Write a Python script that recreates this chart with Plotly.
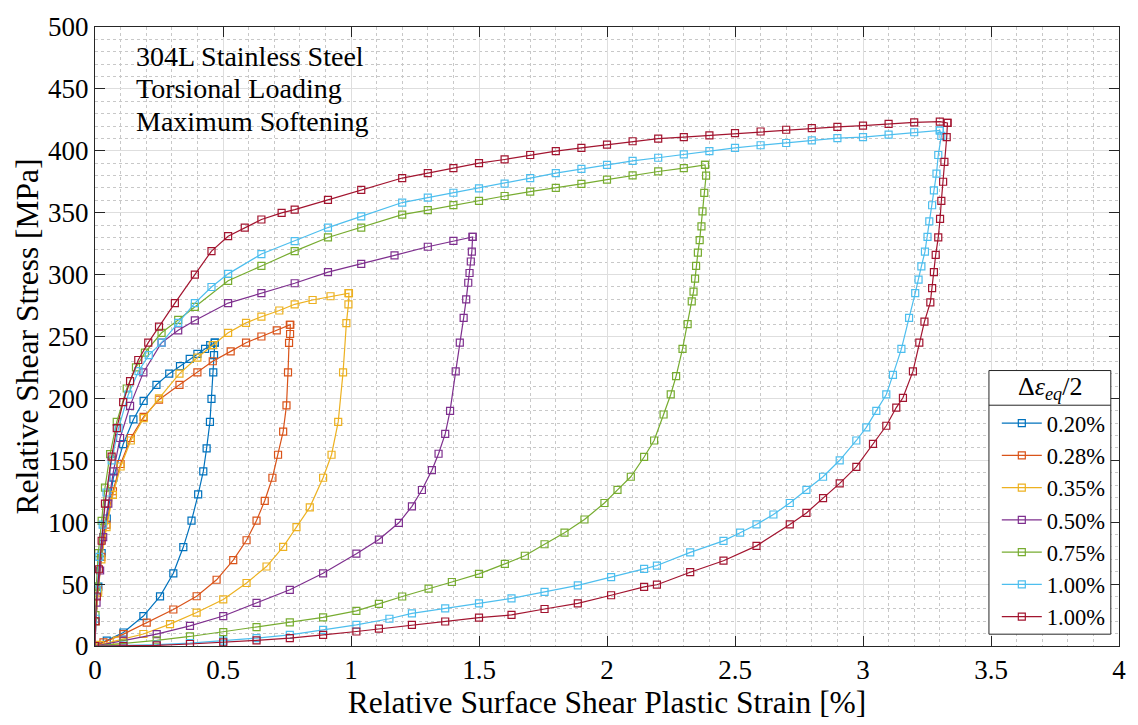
import plotly.graph_objects as go

# Relative hysteresis loops (shear stress vs. surface shear plastic strain).
# Each loop: loading branch from the origin up to the peak ("up"),
# unloading branch from the origin up to the same peak ("lo").
labels = ["0.20%", "0.28%", "0.35%", "0.50%", "0.75%", "1.00%", "1.00%"]
colors = ["#0072BD", "#D95319", "#EDB120", "#7E2F8E", "#77AC30", "#4DBEEE", "#A2142F"]

up_x_020 = [0, 0.003, 0.013, 0.026, 0.046, 0.072, 0.11, 0.15, 0.19, 0.24, 0.29, 0.332, 0.37, 0.40, 0.43, 0.45, 0.468]
up_y_020 = [0, 20, 48, 75, 103, 136, 163, 183, 198, 211, 220, 226, 232, 236, 240, 243, 245]
lo_x_020 = [0, 0.046, 0.111, 0.189, 0.254, 0.306, 0.345, 0.377, 0.403, 0.423, 0.436, 0.449, 0.455, 0.462, 0.465, 0.468]
lo_y_020 = [0, 4.3, 10.9, 24.2, 40.1, 58.7, 79.9, 101.2, 122.4, 141, 159.7, 181, 199.6, 221, 235, 245]

up_x_028 = [0, 0.003, 0.012, 0.025, 0.045, 0.07, 0.10, 0.14, 0.19, 0.25, 0.33, 0.40, 0.46, 0.53, 0.59, 0.65, 0.71, 0.761]
up_y_028 = [0, 20, 45, 72, 98, 125, 147, 168, 185, 199, 211, 221, 230, 238, 245, 250, 255, 259.5]
lo_x_028 = [0, 0.033, 0.111, 0.202, 0.306, 0.397, 0.475, 0.54, 0.592, 0.631, 0.663, 0.693, 0.715, 0.735, 0.748, 0.754, 0.758, 0.762, 0.763]
lo_y_028 = [0, 2.9, 9.6, 18.9, 29.5, 40.2, 53.5, 69.4, 85.4, 101.3, 117.3, 135.9, 154.5, 173.2, 194.4, 221, 244.8, 252, 259.5]

up_x_035 = [0, 0.003, 0.012, 0.025, 0.045, 0.07, 0.10, 0.14, 0.19, 0.25, 0.33, 0.40, 0.46, 0.52, 0.59, 0.65, 0.72, 0.78, 0.85, 0.92, 0.99]
up_y_035 = [0, 20, 43, 70, 96, 122, 145, 166, 184, 200, 220, 233, 243, 253, 261, 266, 271, 276, 279.5, 282.5, 285]
lo_x_035 = [0, 0.02, 0.085, 0.189, 0.293, 0.397, 0.501, 0.592, 0.67, 0.735, 0.787, 0.839, 0.891, 0.924, 0.95, 0.969, 0.982, 0.99, 0.992]
lo_y_035 = [0, 0.9, 4.4, 9.7, 17.7, 27, 37.6, 50.9, 64.2, 80.1, 96, 112, 135.9, 154.5, 181, 221, 260.8, 276, 285]

up_x_050 = [0, 0.006, 0.02, 0.032, 0.052, 0.072, 0.098, 0.137, 0.189, 0.26, 0.325, 0.39, 0.52, 0.65, 0.78, 0.91, 1.04, 1.17, 1.3, 1.4, 1.475]
up_y_050 = [0, 35, 61, 88, 115, 141, 168, 194, 221, 245, 255, 263, 277, 285, 293, 302, 308.6, 315.5, 322.5, 327.2, 330.4]
lo_x_050 = [0, 0.111, 0.241, 0.371, 0.501, 0.631, 0.761, 0.891, 1.021, 1.109, 1.187, 1.238, 1.277, 1.316, 1.342, 1.368, 1.387, 1.409, 1.425, 1.44, 1.45, 1.458, 1.463, 1.468, 1.472, 1.475]
lo_y_050 = [0, 4.3, 9.6, 16.3, 24.2, 34.8, 45.4, 58.7, 74.6, 86, 99.5, 112.8, 126, 142, 155.3, 171.3, 189.9, 221.8, 245, 265, 280, 293.4, 301.3, 310.6, 318.5, 330.4]

up_x_075 = [0, 0.002, 0.005, 0.013, 0.026, 0.039, 0.059, 0.085, 0.124, 0.16, 0.195, 0.26, 0.325, 0.39, 0.52, 0.65, 0.78, 0.91, 1.04, 1.2, 1.3, 1.4, 1.5, 1.6, 1.7, 1.8, 1.9, 2.0, 2.1, 2.2, 2.3, 2.383]
up_y_075 = [0, 25, 48, 75, 101, 128, 155, 181, 208, 225, 237, 253, 263.4, 274, 295, 307, 319, 330, 338, 348.4, 352.1, 356.1, 359.5, 363.5, 367, 370, 373.3, 376.7, 380.2, 383.3, 386, 388.6]
lo_x_075 = [0, 0.111, 0.241, 0.371, 0.501, 0.631, 0.761, 0.891, 1.021, 1.109, 1.2, 1.303, 1.394, 1.5, 1.601, 1.679, 1.756, 1.834, 1.912, 1.99, 2.041, 2.093, 2.145, 2.184, 2.221, 2.249, 2.27, 2.295, 2.315, 2.331, 2.338, 2.344, 2.348, 2.355, 2.362, 2.369, 2.373, 2.38, 2.387, 2.383]
lo_y_075 = [0, 1.9, 4.5, 7.7, 11.2, 15.2, 19.1, 23.1, 28.4, 34, 40, 46.4, 51.7, 58.3, 66.3, 72.9, 82.2, 91.5, 102.2, 115.5, 126.1, 136.7, 152.7, 166, 187, 203.2, 218, 240, 260, 278.3, 286.2, 296.8, 307, 317.7, 327.8, 339, 351, 366, 380, 388.6]

up_x_100a = [0, 0.003, 0.008, 0.017, 0.03, 0.045, 0.065, 0.092, 0.13, 0.17, 0.21, 0.26, 0.325, 0.39, 0.455, 0.52, 0.65, 0.78, 0.91, 1.04,
             1.2, 1.3, 1.4, 1.5, 1.6, 1.7, 1.8, 1.9, 2.0, 2.1, 2.2, 2.3, 2.4, 2.5, 2.6, 2.7, 2.8, 2.9, 3.0, 3.1, 3.2, 3.3]
up_y_100a = [0, 22, 45, 72, 98, 124, 150, 176, 203, 222, 235, 245, 261, 277, 290, 300.6, 316.6, 327, 338, 347,
             358.2, 362.2, 366.1, 369.6, 373.5, 378, 382, 385.4, 388.6, 391.8, 394.4, 397.1, 399.7, 402.4, 404.5, 406.3, 408.5, 410.3, 411.1, 413, 415, 416.4]
lo_x_100a = [0, 0.111, 0.241, 0.371, 0.501, 0.631, 0.761, 0.891, 1.021, 1.15, 1.238, 1.368, 1.5, 1.627, 1.756, 1.886, 2.016, 2.145, 2.195,
             2.325, 2.455, 2.52, 2.584, 2.65, 2.714, 2.779, 2.844, 2.909, 2.974, 3.013, 3.052, 3.091, 3.117, 3.15, 3.18, 3.204, 3.217,
             3.228, 3.242, 3.252, 3.259, 3.27, 3.277, 3.287, 3.294, 3.306, 3.30]
lo_y_100a = [0, 0.3, 1.1, 2.4, 4.3, 6.4, 9, 13, 17, 22, 26.4, 30.4, 34.4, 38.4, 43.7, 49, 55.7, 62.3, 65,
             75.6, 84.9, 91.5, 98.2, 106.2, 115.5, 126.1, 136.7, 150, 166, 176.6, 189.9, 203.2, 219, 240, 265, 285, 296,
             306.6, 318.5, 330.4, 343, 356, 368, 381.5, 396.6, 412, 416.4]

up_x_100b = [0, 0.002, 0.007, 0.015, 0.026, 0.039, 0.065, 0.085, 0.11, 0.137, 0.169, 0.208, 0.25, 0.312, 0.39, 0.455, 0.52, 0.585, 0.65, 0.729, 0.78, 0.91, 1.04,
             1.2, 1.3, 1.4, 1.5, 1.6, 1.7, 1.8, 1.9, 2.0, 2.1, 2.2, 2.3, 2.4, 2.5, 2.6, 2.7, 2.8, 2.9, 3.0, 3.1, 3.2, 3.3, 3.33]
up_y_100b = [0, 20, 40, 62, 85, 115, 153, 176, 197, 214, 231, 245, 258, 277, 300, 319, 331, 338, 344.5, 349.8, 352.5, 360.4, 368.4,
             378, 382, 386, 390, 393, 396.6, 399.7, 402.4, 405, 407.7, 409.8, 411, 412.4, 414.3, 415.6, 417, 418.3, 419.3, 420.4, 421.7, 423, 423.5, 422.5]
lo_x_100b = [0, 0.111, 0.241, 0.371, 0.501, 0.631, 0.761, 0.891, 1.021, 1.109, 1.238, 1.368, 1.5, 1.627, 1.756, 1.886, 2.016, 2.145, 2.195,
             2.325, 2.455, 2.584, 2.714, 2.779, 2.844, 2.909, 2.974, 3.039, 3.091, 3.13, 3.156, 3.195, 3.22, 3.24, 3.263, 3.27, 3.277,
             3.284, 3.294, 3.301, 3.306, 3.313, 3.318, 3.327, 3.33]
lo_y_100b = [0, 0, 0.5, 1.6, 2.9, 4.5, 6.4, 9, 11.7, 14, 17.1, 19.8, 23, 25.1, 29.9, 34.4, 41, 47.7, 49.5,
             59.6, 68.9, 80.9, 98.2, 107.5, 119.5, 131.4, 144.7, 163.3, 177.9, 192.6, 200.5, 221.8, 245, 262, 277.5, 289, 302,
             316, 330, 345, 359.5, 375, 391, 411, 422.5]

loops = [
    (up_x_020, up_y_020, lo_x_020, lo_y_020),
    (up_x_028, up_y_028, lo_x_028, lo_y_028),
    (up_x_035, up_y_035, lo_x_035, lo_y_035),
    (up_x_050, up_y_050, lo_x_050, lo_y_050),
    (up_x_075, up_y_075, lo_x_075, lo_y_075),
    (up_x_100a, up_y_100a, lo_x_100a, lo_y_100a),
    (up_x_100b, up_y_100b, lo_x_100b, lo_y_100b),
]

SERIF = "'Liberation Serif', 'Times New Roman', 'DejaVu Serif', serif"
INK = "#262626"

fig = go.Figure()
for (ux, uy, lx, ly), name, col in zip(loops, labels, colors):
    # closed loop: loading branch out to the peak, unloading branch back to the origin
    xs = list(ux) + list(reversed(lx))
    ys = list(uy) + list(reversed(ly))
    fig.add_trace(go.Scatter(
        x=xs, y=ys, name=name, mode="lines+markers",
        line=dict(color=col, width=1.2),
        marker=dict(symbol="square-open", size=7, color=col, line=dict(width=1.2, color=col)),
    ))

axis_common = dict(
    showline=True, linecolor=INK, linewidth=1, mirror="ticks",
    ticks="inside", ticklen=10, tickwidth=1, tickcolor=INK,
    showgrid=True, gridcolor="#dedede", gridwidth=1, zeroline=False,
    tickfont=dict(family=SERIF, size=27, color="black"),
)

fig.update_xaxes(
    range=[0, 4], tick0=0, dtick=0.5,
    minor=dict(dtick=0.1, showgrid=True, gridcolor="#c8c8c8", griddash="dot", ticks=""),
    title=dict(text="Relative Surface Shear Plastic Strain [%]", font=dict(family=SERIF, size=31.5, color="black"), standoff=6),
    **axis_common,
)
fig.update_yaxes(
    range=[0, 500], tick0=0, dtick=50,
    minor=dict(dtick=10, showgrid=True, gridcolor="#c8c8c8", griddash="dot", ticks=""),
    title=dict(text="Relative Shear Stress [MPa]", font=dict(family=SERIF, size=31.5, color="black"), standoff=0),
    **axis_common,
)

# legend frame: white panel with border, title, and the rule under the title
lg_left, lg_right, lg_bottom, lg_top, lg_rule = 0.873, 0.992, 0.0191, 0.445, 0.389
fig.add_shape(type="rect", xref="paper", yref="paper", x0=lg_left, x1=lg_right, y0=lg_bottom, y1=lg_top,
              fillcolor="white", line=dict(color=INK, width=1), layer="above")
fig.add_shape(type="line", xref="paper", yref="paper", x0=lg_left, x1=lg_right, y0=lg_rule, y1=lg_rule,
              line=dict(color=INK, width=1), layer="above")
fig.add_annotation(text="Δ<i>ε</i><sub><i>eq</i></sub>/2", xref="paper", yref="paper",
                   x=(lg_left + lg_right) / 2, y=(lg_top + lg_rule) / 2, xanchor="center", yanchor="middle",
                   showarrow=False, font=dict(family=SERIF, size=26, color="black"))

for txt, yy in [("304L Stainless Steel", 0.952), ("Torsional Loading", 0.900), ("Maximum Softening", 0.848)]:
    fig.add_annotation(text=txt, xref="paper", yref="paper", x=0.038, y=yy, xanchor="left", yanchor="middle",
                       showarrow=False, font=dict(family=SERIF, size=28, color="black"))

fig.update_layout(
    width=1138, height=725,
    margin=dict(l=95, r=18, t=20, b=78),
    paper_bgcolor="white", plot_bgcolor="white",
    showlegend=True,
    legend=dict(
        x=lg_right, xanchor="right", y=0.013, yanchor="bottom",
        bgcolor="rgba(0,0,0,0)", borderwidth=0,
        font=dict(family=SERIF, size=22.5, color="black"),
        tracegroupgap=0, itemwidth=40,
    ),
)

fig.write_html("out.html")
